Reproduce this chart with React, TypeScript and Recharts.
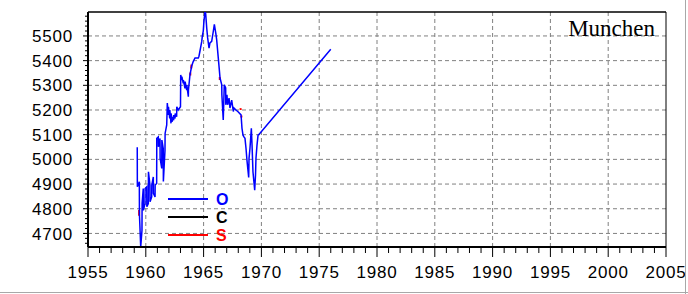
import React from 'react';
import { LineChart, Line, XAxis, YAxis, CartesianGrid, ReferenceLine } from 'recharts';

// Munchen series (O = blue, S = red)
const oYears = [
  1959.26, 1959.27, 1959.44, 1959.45, 1959.56, 1959.67, 1959.68, 1959.78, 1959.79, 1959.93,
  1959.94, 1960.08, 1960.09, 1960.22, 1960.23, 1960.36, 1960.37, 1960.51, 1960.52, 1960.65,
  1960.66, 1960.8, 1960.81, 1960.94, 1960.95, 1961.08, 1961.09, 1961.23, 1961.24, 1961.38,
  1961.39, 1961.51, 1961.52, 1961.66, 1961.67, 1961.81, 1961.86, 1961.95, 1961.96, 1962.07,
  1962.08, 1962.18, 1962.19, 1962.29, 1962.3, 1962.41, 1962.42, 1962.53, 1962.54, 1962.67,
  1962.68, 1962.81, 1963.0, 1963.02, 1963.11, 1963.12, 1963.24, 1963.25, 1963.39, 1963.4,
  1963.54, 1963.55, 1963.68, 1963.69, 1963.82, 1963.97, 1964.11, 1964.26, 1964.54, 1964.6,
  1964.69, 1964.84, 1964.89, 1964.97, 1965.03, 1965.12, 1965.18, 1965.27, 1965.35, 1965.47,
  1965.55, 1965.7, 1965.84, 1965.93, 1966.05, 1966.13, 1966.27, 1966.42, 1966.57, 1966.58,
  1966.7, 1966.79, 1966.91, 1966.92, 1967.02, 1967.08, 1967.2, 1967.28, 1967.43, 1967.57,
  1967.63, 1967.8, 1967.98, 1968.24, 1968.32, 1968.41, 1968.49, 1968.58, 1968.67, 1968.75,
  1968.9, 1968.93, 1969.01, 1969.13, 1969.19, 1969.27, 1969.42, 1969.49, 1969.53, 1969.62,
  1969.71, 1969.79, 1976.0,
];
const oValues = [
  5049, 4889, 4909, 4777, 4645, 4713, 4821, 4882, 4794, 4821,
  4882, 4889, 4808, 4821, 4950, 4896, 4828, 4848, 4896, 4929,
  4862, 4848, 4896, 4902, 5085, 5091, 5051, 5085, 5004, 4963,
  5078, 5044, 4910, 5037, 5105, 5140, 5228, 5180, 5213, 5166,
  5200, 5146, 5186, 5152, 5173, 5159, 5180, 5166, 5186, 5173,
  5213, 5200, 5213, 5342, 5321, 5335, 5308, 5321, 5288, 5315,
  5281, 5301, 5254, 5281, 5342, 5378, 5397, 5411, 5411, 5418,
  5440, 5478, 5499, 5519, 5560, 5600, 5590, 5532, 5492, 5451,
  5472, 5478, 5519, 5547, 5512, 5485, 5411, 5330, 5302, 5262,
  5160, 5302, 5289, 5221, 5262, 5221, 5248, 5208, 5240, 5194,
  5208, 5200, 5193, 5180, 5126, 5098, 5091, 5085, 5044, 4997,
  4927, 5004, 5044, 5126, 5058, 4950, 4875, 4936, 5004, 5058,
  5098, 5101, 5446,
];
const sYears = [
  1959.42, 1959.42, 1959.43, 1963.85, 1963.85, 1963.86, 1963.93, 1963.95, 1963.96,
  1966.4, 1966.4, 1966.41, 1968.19, 1968.21, 1968.22, 1968.27, 1968.27,
];
const sValues = [
  4795, 4772, null, 5340, 5352, null, 5368, 5384, null,
  5334, 5322, null, 5208, 5200, null, 5178, 5170,
];

const xMajorTicks = [1955, 1960, 1965, 1970, 1975, 1980, 1985, 1990, 1995, 2000, 2005];
const yMajorTicks = [4700, 4800, 4900, 5000, 5100, 5200, 5300, 5400, 5500];
const xDomain = [1955, 2005];
const yDomain = [4645, 5597];
const legendItems = [
  { name: 'O', color: '#0000ff' },
  { name: 'C', color: '#000000' },
  { name: 'S', color: '#ff0000' },
];
const title = 'Munchen';

const xAllTicks = Array.from({ length: xDomain[1] - xDomain[0] + 1 }, (_, i) => xDomain[0] + i);
const yAllTicks = Array.from({ length: 47 }, (_, i) => 4660 + i * 20);

const oData = oYears.map((year, i) => ({ year, v: oValues[i] }));
const sData = sYears.map((year, i) => ({ year, v: sValues[i] }));

const FONT = '"Liberation Sans", Arial, sans-serif';

const XTick = (props: any) => {
  const { x, y, payload } = props;
  const major = payload.value % 5 === 0;
  return (
    <g>
      <line x1={x} x2={x} y1={y} y2={y + (major ? 10 : 6)} stroke="#000" strokeWidth={1} />
      {major && (
        <text x={x} y={y + 31} textAnchor="middle" fontFamily={FONT} fontSize={17} letterSpacing={0.8} fill="#000">
          {payload.value}
        </text>
      )}
    </g>
  );
};

const YTick = (props: any) => {
  const { x, y, payload } = props;
  const major = payload.value % 100 === 0;
  return (
    <g>
      <line x1={x} x2={x - (major ? 5 : 3)} y1={y} y2={y} stroke="#000" strokeWidth={1} />
      {major && (
        <text x={x - 15} y={y} dy="0.36em" textAnchor="end" fontFamily={FONT} fontSize={17} letterSpacing={0.8} fill="#000">
          {payload.value}
        </text>
      )}
    </g>
  );
};

export default function App() {
  return (
    <div style={{ position: 'absolute', left: 0, top: 0, width: 688, height: 294, background: '#fff' }}>
      <LineChart width={688} height={294} margin={{ top: 12, right: 22, bottom: 0, left: 0 }}>
        <CartesianGrid
          stroke="#808080"
          strokeDasharray="4 3"
          verticalValues={xMajorTicks.slice(1, -1)}
          horizontalValues={yMajorTicks}
        />
        <XAxis
          dataKey="year"
          type="number"
          domain={xDomain}
          ticks={xAllTicks}
          interval={0}
          allowDataOverflow
          height={47}
          tickSize={0}
          tickMargin={0}
          tickLine={false}
          axisLine={{ stroke: '#000', strokeWidth: 2 }}
          tick={<XTick />}
        />
        <YAxis
          type="number"
          domain={yDomain}
          ticks={yAllTicks}
          interval={0}
          allowDataOverflow
          width={88}
          tickSize={0}
          tickMargin={0}
          tickLine={false}
          axisLine={{ stroke: '#000', strokeWidth: 2 }}
          tick={<YTick />}
        />
        <ReferenceLine y={yDomain[1]} stroke="#000" strokeWidth={1.5} />
        <ReferenceLine x={xDomain[1]} stroke="#000" strokeWidth={1} />
        <Line data={sData} dataKey="v" stroke="#ff0000" strokeWidth={2} dot={false} isAnimationActive={false} connectNulls={false} />
        <Line data={oData} dataKey="v" stroke="#0000ff" strokeWidth={1.5} dot={false} isAnimationActive={false} />
      </LineChart>
      <svg width={688} height={294} style={{ position: 'absolute', left: 0, top: 0, pointerEvents: 'none' }}>
        <text x={655} y={36} textAnchor="end" fontFamily='"Liberation Serif", "Times New Roman", serif' fontSize={23} fill="#000">
          {title}
        </text>
        {legendItems.map((it, i) => (
          <g key={it.name}>
            <line x1={168} x2={208} y1={199 + i * 18} y2={199 + i * 18} stroke={it.color} strokeWidth={2} />
            <text x={216} y={199 + i * 18} dy="0.36em" fontFamily={FONT} fontWeight="bold" fontSize={16} fill={it.color}>
              {it.name}
            </text>
          </g>
        ))}
        <line x1={685.5} x2={685.5} y1={0} y2={294} stroke="#a8a8a8" strokeWidth={1} />
        <line x1={0} x2={688} y1={292.5} y2={292.5} stroke="#a8a8a8" strokeWidth={1} />
      </svg>
    </div>
  );
}
